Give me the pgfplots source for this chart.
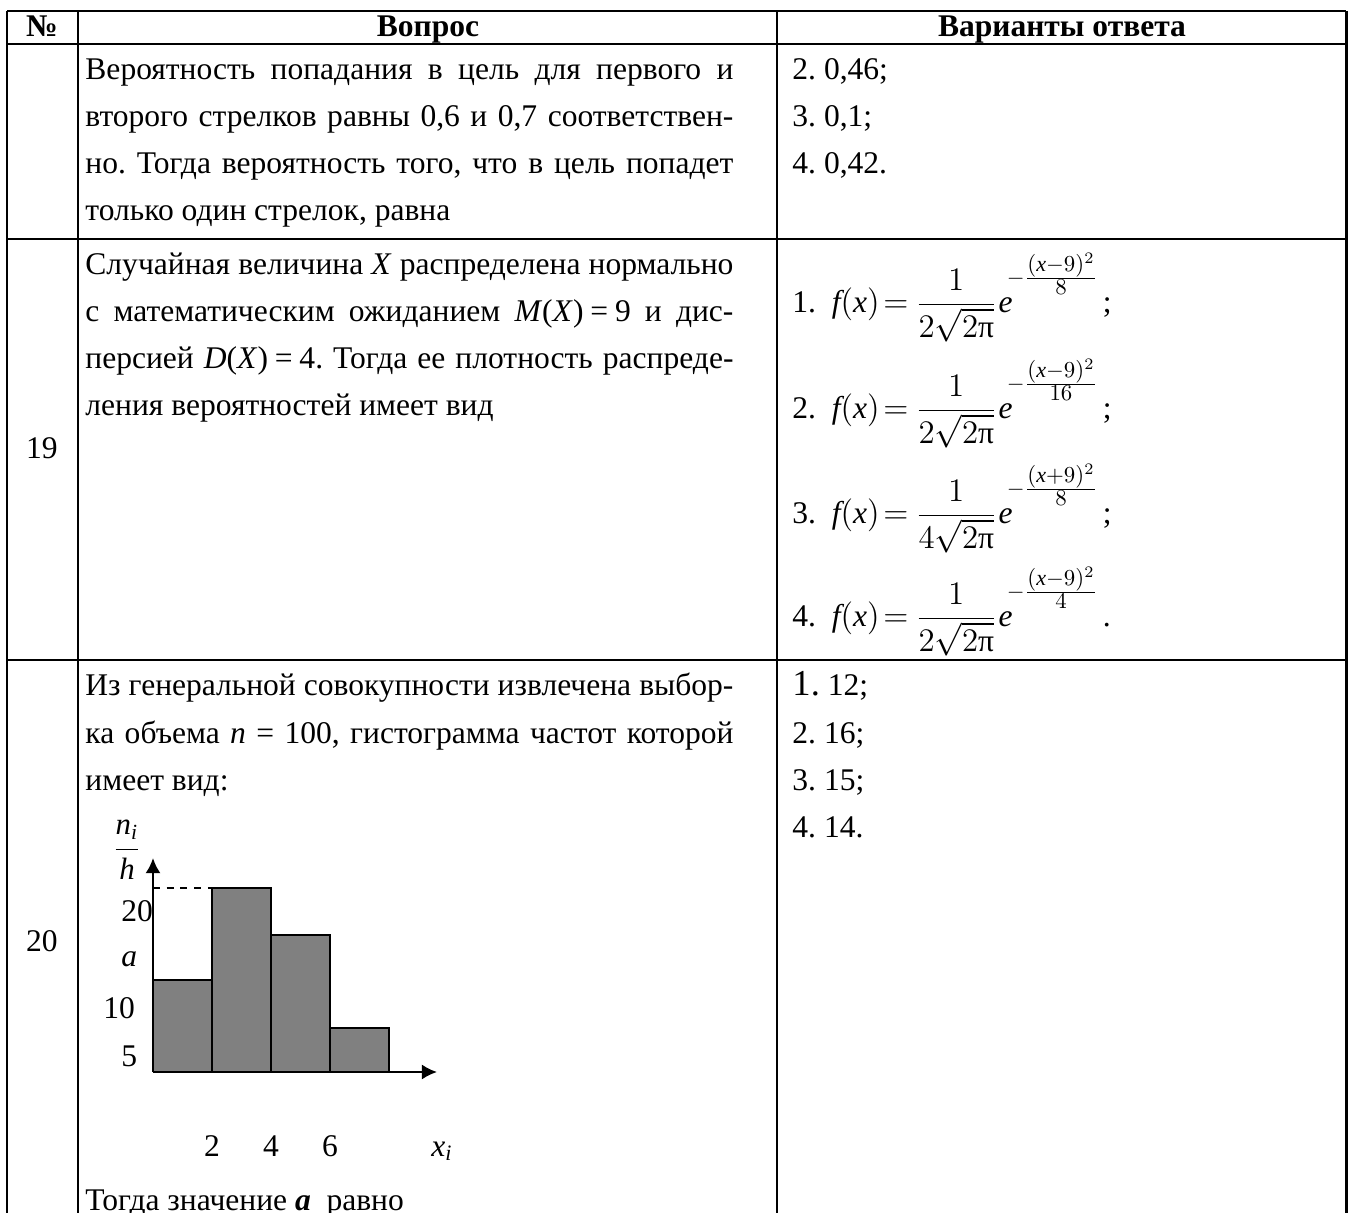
\documentclass[border=0pt]{standalone}
\usepackage{fontspec}
\setmainfont{Liberation Serif}
\usepackage{pgfplots}
\pgfplotsset{compat=1.18}
\usetikzlibrary{arrows.meta}
\frenchspacing
\newcommand\jline[2]{\node[anchor=base west,inner sep=0pt] at (85,#1) {\makebox[283.5pt][s]{#2}};}
\newcommand\lline[3]{\node[anchor=base west,inner sep=0pt] at (#1,#2) {#3};}
\newcommand\frm[4]{#1.\ \ $\displaystyle \mathit{f}(\mathit{x})\mkern2mu{=}\mkern4mu\frac{1}{#2\sqrt{2\mbox{π}}}\mkern1mu\mathit{e}^{\kern-2.5pt\raisebox{6.5pt}{$\scriptstyle -\frac{\scriptstyle(\mathit{x}#3 9)^2}{\scriptstyle #4}$}}$\kern2pt}
\begin{document}
\begin{tikzpicture}[x=0.4375pt,y=-0.4375pt]
\fontsize{13.8pt}{16pt}\selectfont
\useasboundingbox (0,0) rectangle (1349,1213);
% table rules
\draw[line width=1.3pt] (7,11) -- (1346,11);
\draw[line width=1.3pt] (7,44) -- (1346,44);
\draw[line width=1.3pt] (7,239) -- (1346,239);
\draw[line width=1.3pt] (7,660) -- (1346,660);
\draw[line width=1.3pt] (7,11) -- (7,1225);
\draw[line width=1.3pt] (78,11) -- (78,1225);
\draw[line width=1.3pt] (777,11) -- (777,1225);
\draw[line width=1.3pt] (1346,11) -- (1346,1225);
% header
\node[anchor=base,inner sep=0pt] at (42,37) {\bfseries №};
\node[anchor=base,inner sep=0pt] at (428,37) {\bfseries Вопрос};
\node[anchor=base,inner sep=0pt] at (1062,37) {\bfseries Варианты ответа};
% row 18 (tail)
\jline{80}{Вероятность попадания в цель для первого и}
\jline{127}{второго стрелков равны 0,6 и 0,7 соответствен-}
\jline{174}{но. Тогда вероятность того, что в цель попадет}
\lline{85}{221}{только один стрелок, равна}
\lline{792}{80}{2. 0,46;}
\lline{792}{127}{3. 0,1;}
\lline{792}{174}{4. 0,42.}
% row 19
\node[anchor=base,inner sep=0pt] at (42,459) {19};
\jline{275}{Случайная величина \textit{X} распределена нормально}
\jline{322}{с математическим ожиданием \mbox{\textit{M}(\textit{X})\kern3pt=\kern3pt9} и дис-}
\jline{369}{персией \mbox{\textit{D}(\textit{X})\kern3pt=\kern3pt4.} Тогда ее плотность распреде-}
\lline{85}{416}{ления вероятностей имеет вид}
\lline{792}{313}{\frm{1}{2}{-}{8};}
\lline{792}{419}{\frm{2}{2}{-}{16};}
\lline{792}{524}{\frm{3}{4}{+}{8};}
\lline{792}{627}{\frm{4}{2}{-}{4}.}
% row 20
\node[anchor=base,inner sep=0pt] at (42,951) {20};
\jline{696}{Из генеральной совокупности извлечена выбор-}
\jline{743}{ка объема \textit{n} = 100, гистограмма частот которой}
\lline{85}{790}{имеет вид:}
\lline{85}{1210}{Тогда значение \textbf{\textit{a}}\ \ равно}
\lline{792}{696}{{\fontsize{16pt}{16pt}\selectfont 1.} 12;}
\lline{792}{743}{2. 16;}
\lline{792}{790}{3. 15;}
\lline{792}{837}{4. 14.}
% histogram
\begin{axis}[at={(66.94pt,-469pt)}, anchor=south west, scale only axis,
  width=124.25pt, height=93.6pt,
  xmin=0, xmax=9.63, ymin=3.4, ymax=25.46,
  axis lines=left,
  axis line style={line width=1pt, -{Latex[length=6.6pt,width=6.6pt]}},
  major tick length=0pt,
  xtick={2,4,6}, xticklabels={2,4,6},
  extra x ticks={9.5}, extra x tick labels={$\mathit{x}_{\mathit{i}}$},
  extra x tick style={xticklabel style={xshift=3.9pt}},
  xticklabel style={anchor=base, yshift=-36.75pt, font=\fontsize{13.8pt}{16pt}\selectfont},
  ytick={5,10,15,20}, yticklabels={5,{\hspace*{-7.9pt}10},\textit{a},20},
  yticklabel style={anchor=west, xshift=-14pt, inner sep=0pt, font=\fontsize{13.8pt}{16pt}\selectfont},
  ylabel={$\displaystyle\frac{\mathit{n}_{\mathit{i}}}{\mathit{h}}$},
  ylabel style={rotate=-90, at={(axis description cs:-0.0915,1.037)}, anchor=center, font=\fontsize{13.5pt}{15pt}\selectfont},
]
\addplot[ybar interval, fill=black!50, draw=black, line width=0.9pt] coordinates {(0,12.9) (2,22.4) (4,17.5) (6,7.9) (8,7.9)};
\addplot[dashed, black, line width=0.9pt] coordinates {(0,22.4) (2,22.4)};
\end{axis}
\end{tikzpicture}
\end{document}
